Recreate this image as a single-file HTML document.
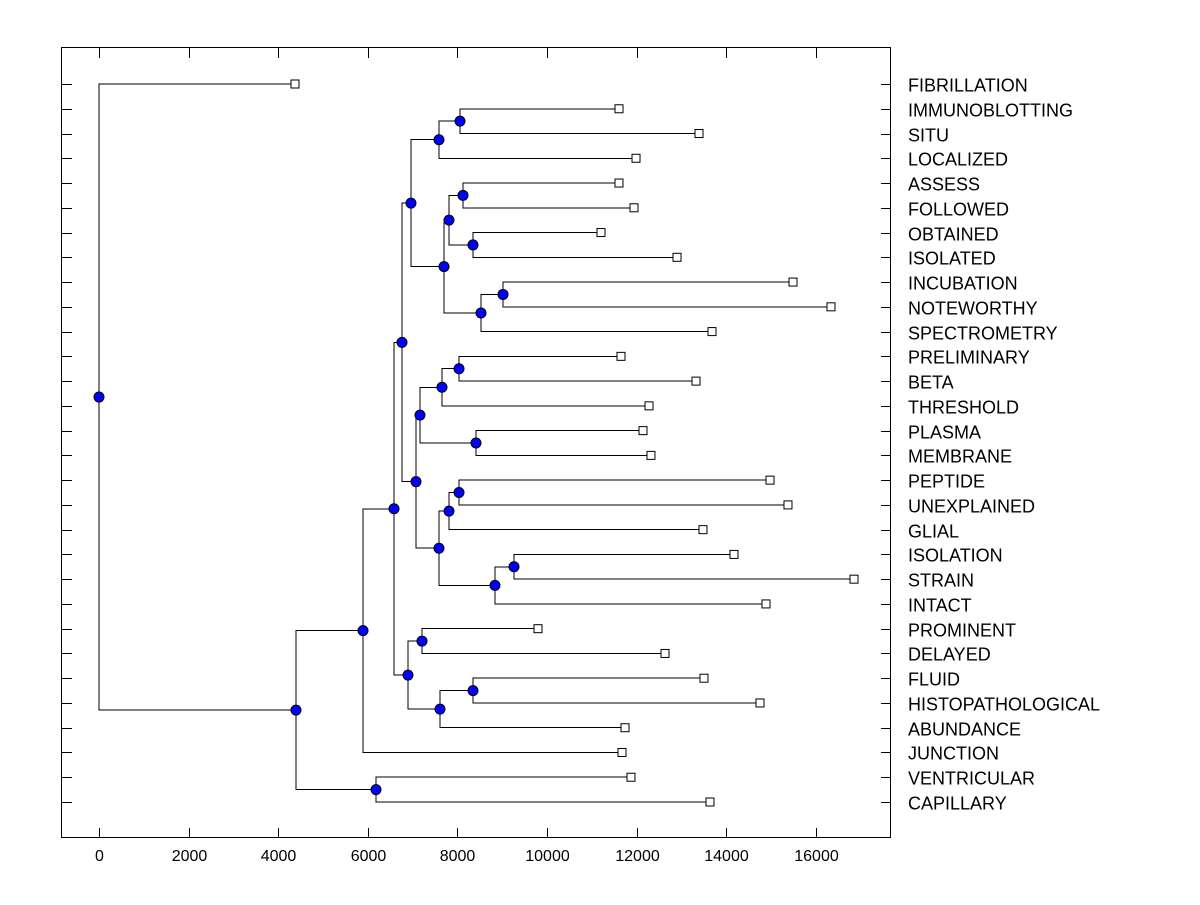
<!DOCTYPE html>
<html><head><meta charset="utf-8"><style>
body{margin:0;background:#fff}
svg text{font-family:"Liberation Sans",sans-serif;font-size:16px;fill:#000}
svg text.lbl{font-size:18px}
</style></head><body>
<svg id="c" width="1200" height="900" xmlns="http://www.w3.org/2000/svg"></svg>
<script>
const labels=["FIBRILLATION","IMMUNOBLOTTING","SITU","LOCALIZED","ASSESS","FOLLOWED","OBTAINED","ISOLATED","INCUBATION","NOTEWORTHY","SPECTROMETRY","PRELIMINARY","BETA","THRESHOLD","PLASMA","MEMBRANE","PEPTIDE","UNEXPLAINED","GLIAL","ISOLATION","STRAIN","INTACT","PROMINENT","DELAYED","FLUID","HISTOPATHOLOGICAL","ABUNDANCE","JUNCTION","VENTRICULAR","CAPILLARY"];
const leafValues=[4375,11607,13393,11987,11607,11942,11205,12902,15491,16339,13683,11652,13326,12277,12143,12321,14978,15379,13482,14174,16853,14888,9799,12634,13504,14754,11741,11674,11875,13638];
// tree: [mergeHeight, left, right]; numbers are leaf indices
const tree=[0,0,[4397,
  [5893,[6585,
    [6763,
      [6964,[7589,[8058,1,2],3],[7701,[7813,[8125,4,5],[8348,6,7]],[8527,[9018,8,9],10]]],
      [7076,[7165,[7656,[8036,11,12],13],[8415,14,15]],[7589,[7813,[8036,16,17],18],[8839,[9263,19,20],21]]]],
    [6897,[7210,22,23],[7612,[8348,24,25],26]]],27],
  [6183,28,29]]];
const xTicks=[0,2000,4000,6000,8000,10000,12000,14000,16000];

const svg=document.getElementById('c');
const NS='http://www.w3.org/2000/svg';
const L=62,R=891,T=48,B=838;
const sx=v=>99+v*0.0448;
const sy=i=>84+i*(718/29);
function mk(tag,at,name,p){const e=document.createElementNS(NS,tag);for(const k in at)e.setAttribute(k,at[k]);


(p||svg).appendChild(e);return e;}
mk('rect',{x:L-0.5,y:T-0.5,width:R-L,height:B-T,fill:'none',stroke:'#000','stroke-width':1,'shape-rendering':'crispEdges'},'plot-frame');
xTicks.forEach(v=>{const x=Math.round(sx(v))+0.5;
 mk('line',{x1:x,x2:x,y1:B,y2:B-10,stroke:'#000','shape-rendering':'crispEdges'},'x-tick');
 mk('line',{x1:x,x2:x,y1:T,y2:T+10,stroke:'#000','shape-rendering':'crispEdges'},'x-tick-top');
 const t=mk('text',{x:x,y:861,'text-anchor':'middle'},'x-tick-label');t.textContent=v;});
labels.forEach((l,i)=>{const y=Math.round(sy(i))+0.5;
 mk('line',{x1:L,x2:L+10,y1:y,y2:y,stroke:'#000','shape-rendering':'crispEdges'},'y-tick-left');
 mk('line',{x1:R-10,x2:R,y1:y,y2:y,stroke:'#000','shape-rendering':'crispEdges'},'y-tick-right');
 const t=mk('text',{x:908,y:y+7,'class':'lbl'},'leaf-label');t.textContent=l;});
const gl=mk('g',{},'dendrogram-links'),gm=mk('g',{},'dendrogram-nodes');
function draw(n){
 if(typeof n==='number'){const x=sx(leafValues[n]),y=sy(n);return {x,y,leaf:n};}
 const a=draw(n[1]),b=draw(n[2]);const x=sx(n[0]),y=(a.y+b.y)/2;
 [a,b].forEach(c=>{mk('polyline',{points:`${x},${y} ${x},${c.y} ${c.x},${c.y}`,fill:'none',stroke:'#000','stroke-width':1,'shape-rendering':'crispEdges'},'branch-link',gl);});
 return {x,y,node:n};}
const nodes=[];
function collect(n){if(typeof n==='number'){return;}nodes.push(n);collect(n[1]);collect(n[2]);}
draw(tree);collect(tree);
function pos(n){if(typeof n==='number')return sy(n);return (pos(n[1])+pos(n[2]))/2;}
nodes.forEach(n=>mk('circle',{cx:sx(n[0]),cy:pos(n),r:5,fill:'#0000ff',stroke:'#000','stroke-width':1},'merge-node',gm));
labels.forEach((l,i)=>mk('rect',{x:sx(leafValues[i])-4,y:sy(i)-4,width:8,height:8,fill:'#fff',stroke:'#000'},'leaf-marker',gm));
</script>
</body></html>
